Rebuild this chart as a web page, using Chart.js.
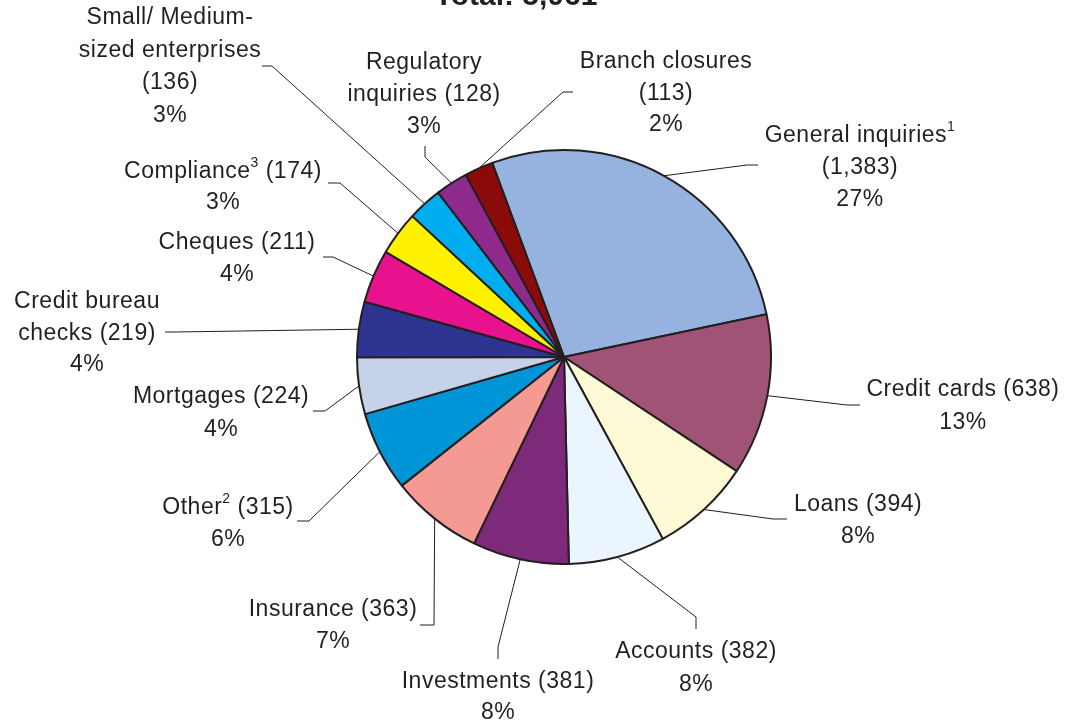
<!DOCTYPE html>
<html>
<head>
<meta charset="utf-8">
<script src="https://cdn.jsdelivr.net/npm/chart.js@4"></script>
<style>
  html, body { margin: 0; padding: 0; background: #fff; }
  #wrap { position: relative; width: 1072px; height: 725px; }
</style>
</head>
<body>
<div id="wrap"><canvas id="complaintsChart"></canvas></div>
<script>
// complaint categories, clockwise from the top slice
const categories = [
  "General inquiries", "Credit cards", "Loans", "Accounts", "Investments",
  "Insurance", "Other", "Mortgages", "Credit bureau\nchecks", "Cheques",
  "Compliance", "Small/ Medium-\nsized enterprises", "Regulatory\ninquiries", "Branch closures"
];
const complaints = [1383, 638, 394, 382, 381, 363, 315, 224, 219, 211, 174, 136, 128, 113];
const footnotes = ["1", "", "", "", "", "", "2", "", "", "", "3", "", "", ""];
const sliceColors = [
  "#95B3DE", "#A15375", "#FFFAD6", "#EAF5FD", "#7E2A7B", "#F49A92", "#0095D6",
  "#C6D2EA", "#2E3590", "#E8118E", "#FFF200", "#00AEEF", "#8E2A8B", "#8B0A0A"
];

const total = complaints.reduce((a, b) => a + b, 0);

// where each callout sits: text centre, first line y, line step, leader elbow and end
const calloutLayout = [
  { cx: 860, y: 136, lh: 32, own: true,  elbow: [747, 165], end: [758, 165] },
  { cx: 963, y: 390, lh: 33, own: false, elbow: [847, 405], end: [860, 405] },
  { cx: 858, y: 505, lh: 32, own: false, elbow: [773, 519], end: [787, 519] },
  { cx: 696, y: 652, lh: 33, own: false, elbow: [696, 617], end: [696, 629] },
  { cx: 498, y: 682, lh: 31, own: false, elbow: [498, 647], end: [498, 659] },
  { cx: 333, y: 610, lh: 32, own: false, elbow: [434, 625], end: [420, 625] },
  { cx: 228, y: 508, lh: 32, own: false, elbow: [309, 521], end: [297, 521] },
  { cx: 221, y: 397, lh: 33, own: false, elbow: [325, 411], end: [313, 411] },
  { cx: 87,  y: 302, lh: 31.5, own: false, elbow: [175, 332], end: [165, 332] },
  { cx: 237, y: 243, lh: 32, own: false, elbow: [333, 257], end: [323, 257] },
  { cx: 223, y: 172, lh: 31, own: false, elbow: [340, 183], end: [328, 183] },
  { cx: 170, y: 18,  lh: 32.5, own: true, elbow: [272, 66], end: [262, 66] },
  { cx: 424, y: 63,  lh: 32, own: false, elbow: [425, 157], end: [425, 146] },
  { cx: 666, y: 62,  lh: 31.5, own: true, elbow: [563, 92], end: [573, 92] }
];

const inkColor = "#231F20";
const labelFont = "23px 'Liberation Sans', Arial, sans-serif";
const supFont = "14px 'Liberation Sans', Arial, sans-serif";

// build the text lines of one callout; a line is a list of {text, sup} pieces
const calloutLines = (i) => {
  const parts = categories[i].split("\n");
  const value = "(" + complaints[i].toLocaleString("en-US") + ")";
  const pct = Math.round((complaints[i] / total) * 100) + "%";
  let lines = parts.map((p) => [{ text: p, sup: false }]);
  let last = lines[lines.length - 1];
  if (footnotes[i]) last.push({ text: footnotes[i], sup: true });
  if (calloutLayout[i].own) {
    lines.push([{ text: value, sup: false }]);
  } else {
    last.push({ text: " " + value, sup: false });
  }
  lines.push([{ text: pct, sup: false }]);
  return lines;
};

const drawLine = (ctx, pieces, cx, y) => {
  let width = 0;
  pieces.forEach((p) => {
    ctx.font = p.sup ? supFont : labelFont;
    p.w = ctx.measureText(p.text).width;
    width += p.w;
  });
  let x = cx - width / 2;
  pieces.forEach((p) => {
    ctx.font = p.sup ? supFont : labelFont;
    ctx.fillText(p.text, x, p.sup ? y - 9 : y);
    x += p.w;
  });
};

const calloutPlugin = {
  id: "callouts",
  afterDatasetsDraw(chart) {
    const ctx = chart.ctx;
    const arcs = chart.getDatasetMeta(0).data;
    ctx.save();
    ctx.strokeStyle = inkColor;
    ctx.fillStyle = inkColor;
    ctx.lineWidth = 1;
    arcs.forEach((arc, i) => {
      const { x, y, startAngle, endAngle, outerRadius } = arc.getProps(
        ["x", "y", "startAngle", "endAngle", "outerRadius"], true
      );
      const mid = (startAngle + endAngle) / 2;
      const lay = calloutLayout[i];
      ctx.beginPath();
      ctx.moveTo(x + Math.cos(mid) * outerRadius, y + Math.sin(mid) * outerRadius);
      ctx.lineTo(lay.elbow[0], lay.elbow[1]);
      ctx.lineTo(lay.end[0], lay.end[1]);
      ctx.stroke();

      ctx.textAlign = "left";
      ctx.textBaseline = "middle";
      ctx.letterSpacing = "0.5px";
      calloutLines(i).forEach((line, k) => {
        drawLine(ctx, line, lay.cx, lay.y + k * lay.lh);
      });
      ctx.letterSpacing = "0px";
    });

    // title sits mostly above the picture, only its lower edge shows
    ctx.font = "bold 30px 'Liberation Sans', Arial, sans-serif";
    ctx.textAlign = "center";
    ctx.textBaseline = "alphabetic";
    ctx.fillText("Total: " + total.toLocaleString("en-US"), 516, 5);
    ctx.restore();
  },
};

const ctx = document.getElementById("complaintsChart").getContext("2d");

window.complaintsChart = new Chart(ctx, {
  type: "pie",
  data: {
    labels: categories.map((c) => c.replace("\n", " ")),
    datasets: [
      {
        data: complaints,
        backgroundColor: sliceColors,
        borderColor: inkColor,
        borderWidth: 2,
      },
    ],
  },
  plugins: [calloutPlugin],
  options: {
    responsive: true,
    maintainAspectRatio: false,
    animation: false,
    rotation: -20.3,
    radius: 207,
    layout: {
      padding: { left: 56, right: 0, top: 0, bottom: 11 },
    },
    plugins: {
      legend: { display: false },
      tooltip: { enabled: false },
      title: { display: false },
    },
  },
});
</script>
</body>
</html>
